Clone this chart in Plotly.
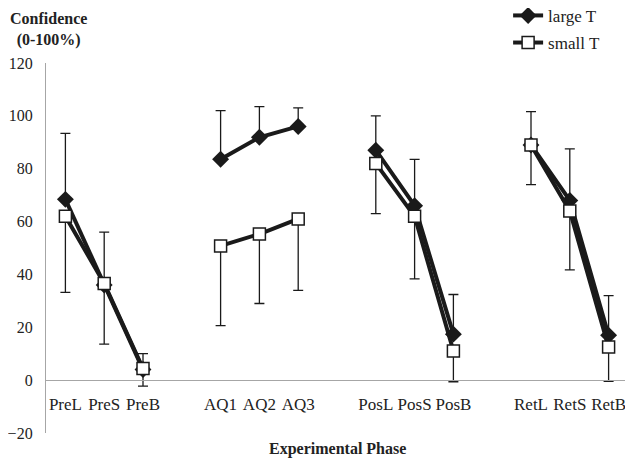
import plotly.graph_objects as go

# category slots, blank slots separate the four phases
phases = ['PreL', 'PreS', 'PreB', '', 'AQ1', 'AQ2', 'AQ3', '',
          'PosL', 'PosS', 'PosB', '', 'RetL', 'RetS', 'RetB']
slots = list(range(len(phases)))

large_t = [68.4, 36, 4, None, 83.6, 91.9, 96, None, 87, 66, 17.4, None, 89, 68, 17]
large_t_plus = [25, 20, 6, 0, 18.4, 11.6, 7, 0, 13, 17.5, 15, 0, 12.6, 19.5, 15]

small_t = [62, 36.6, 4.4, None, 50.8, 55.3, 61, None, 82, 62, 11, None, 89, 64, 12.5]
small_t_minus = [28.8, 23, 6.7, 0, 30.2, 26.3, 27, 0, 19, 23.7, 11.6, 0, 15, 22.3, 13]

y_ticks = [-20, 0, 20, 40, 60, 80, 100, 120]

serif = 'Liberation Serif'
ink = '#222222'
zeros = [0] * len(slots)

fig = go.Figure()

fig.add_trace(go.Scatter(
    x=slots, y=large_t, name='large T', legendgroup='a',
    mode='lines+markers',
    line=dict(color='#1a1a1a', width=4),
    marker=dict(symbol='diamond', size=13, color='#1a1a1a'),
    error_y=dict(type='data', symmetric=False, array=large_t_plus,
                 arrayminus=zeros, color='#1a1a1a', thickness=1.3, width=5),
))

fig.add_trace(go.Scatter(
    x=slots, y=small_t, name='small T', legendgroup='b',
    mode='lines+markers',
    line=dict(color='#1a1a1a', width=4),
    marker=dict(symbol='square', size=12, color='white',
                line=dict(color='#1a1a1a', width=1.5)),
    error_y=dict(type='data', symmetric=False, array=zeros,
                 arrayminus=small_t_minus, color='#1a1a1a', thickness=1.3, width=5),
))

# the page adds an 8px body margin, so everything is placed 8px up/left
fig.update_layout(
    width=633, height=461,
    margin=dict(l=38, r=12.5, t=55, b=36, autoexpand=False),
    plot_bgcolor='white', paper_bgcolor='white',
    font=dict(family=serif, size=17, color=ink),
    showlegend=True,
    legend=dict(x=0.794, y=1.176, xanchor='left', yanchor='top',
                font=dict(family=serif, size=17, color=ink),
                tracegroupgap=2, bgcolor='rgba(0,0,0,0)'),
    xaxis=dict(
        range=[-0.5, 14.5], tickvals=slots, ticktext=phases,
        anchor='free', position=20 / 140, automargin=False,
        showline=True, linecolor='#a6a6a6', linewidth=1.3,
        showgrid=False, zeroline=False, ticks='', ticklabelstandoff=8,
    ),
    yaxis=dict(
        range=[-20, 120], tickvals=y_ticks, automargin=False,
        tickfont=dict(family=serif, size=16, color=ink),
        showline=True, linecolor='#a6a6a6', linewidth=1.3,
        showgrid=False, zeroline=False, ticks='', ticklabelstandoff=9,
    ),
    annotations=[
        dict(text='<b>Confidence<br>(0-100%)</b>', xref='paper', yref='paper',
             x=0.004, y=1.148, xanchor='center', yanchor='top', showarrow=False,
             align='center', font=dict(family=serif, size=16, color=ink)),
        dict(text='<b>Experimental Phase</b>', xref='paper', yref='paper',
             x=0.5, y=-0.0135, xanchor='center', yanchor='top', showarrow=False,
             font=dict(family=serif, size=16, color=ink)),
    ],
)

fig.write_html('out.html')
